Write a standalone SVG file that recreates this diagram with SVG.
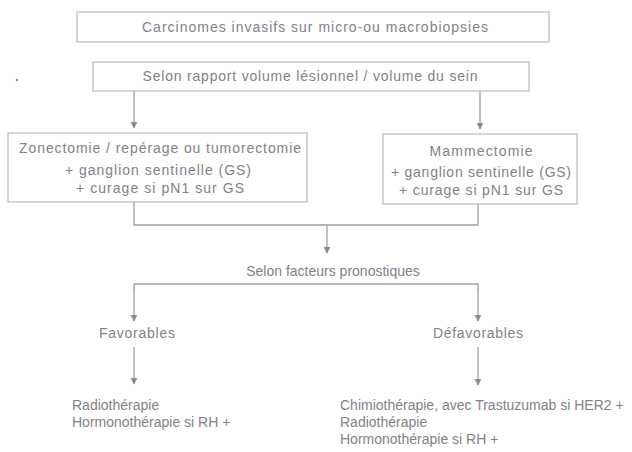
<svg xmlns="http://www.w3.org/2000/svg" width="632" height="452" viewBox="0 0 632 452">
<defs>
<marker id="arr" viewBox="0 0 10 10" refX="9" refY="5" markerWidth="7" markerHeight="7" orient="auto" markerUnits="userSpaceOnUse">
<path d="M0,0 L10,5 L0,10 z" fill="#8e8a92"/>
</marker>
<style>
.box{fill:#ffffff;stroke:#bcbac0;stroke-width:1.2}
.t{font-family:"Liberation Sans",Arial,sans-serif;font-size:14px;fill:#838189}
.c{text-anchor:middle}
.ln{fill:none;stroke:#a09ea4;stroke-width:1.3}
.ar{fill:none;stroke:#a09ea4;stroke-width:1.3;marker-end:url(#arr)}
</style>
</defs>
<rect width="632" height="452" fill="#ffffff"/>
<circle cx="17" cy="80" r="1.2" fill="#8e8a92"/>
<g id="connectors">
<line class="ar" x1="134" y1="91" x2="134" y2="128"/>
<line class="ar" x1="480" y1="91" x2="480" y2="129"/>
<polyline class="ln" points="134,202 134,225 478,225 478,204"/>
<line class="ar" x1="327" y1="225" x2="327" y2="253"/>
<polyline class="ln" points="134,290 134,284 478,284 478,290"/>
<line class="ar" x1="134" y1="289" x2="134" y2="321"/>
<line class="ar" x1="478" y1="289" x2="478" y2="321"/>
<line class="ar" x1="134" y1="347" x2="134" y2="384"/>
<line class="ar" x1="478" y1="347" x2="478" y2="385"/>
</g>
<g id="n1">
<rect class="box" x="77" y="12" width="472" height="30"/>
<text class="t c" x="315" y="32" font-size="15" textLength="346" lengthAdjust="spacing">Carcinomes invasifs sur micro-ou macrobiopsies</text>
</g>
<g id="n2">
<rect class="box" x="93" y="62" width="436" height="29"/>
<text class="t c" x="310" y="81" textLength="335" lengthAdjust="spacing">Selon rapport volume lésionnel / volume du sein</text>
</g>
<g id="n3">
<rect class="box" x="8" y="133" width="299" height="69"/>
<text class="t c" x="160" y="153" textLength="282" lengthAdjust="spacing">Zonectomie / repérage ou tumorectomie</text>
<text class="t c" x="158" y="175" textLength="186" lengthAdjust="spacing">+ ganglion sentinelle (GS)</text>
<text class="t c" x="160" y="193" textLength="168" lengthAdjust="spacing">+ curage si pN1 sur GS</text>
</g>
<g id="n4">
<rect class="box" x="383" y="134" width="194" height="70"/>
<text class="t c" x="481" y="156" textLength="103" lengthAdjust="spacing">Mammectomie</text>
<text class="t c" x="481" y="177" textLength="180" lengthAdjust="spacing">+ ganglion sentinelle (GS)</text>
<text class="t c" x="481" y="195" textLength="164" lengthAdjust="spacing">+ curage si pN1 sur GS</text>
</g>
<g id="n5">
<text class="t c" x="333" y="276" font-size="12">Selon facteurs pronostiques</text>
</g>
<g id="n6">
<text class="t c" x="137" y="338" textLength="76" lengthAdjust="spacing">Favorables</text>
</g>
<g id="n7">
<text class="t c" x="478" y="338" textLength="90" lengthAdjust="spacing">Défavorables</text>
</g>
<g id="n8">
<text class="t" x="72" y="410">Radiothérapie</text>
<text class="t" x="72" y="427">Hormonothérapie si RH +</text>
</g>
<g id="n9">
<text class="t" x="340" y="410">Chimiothérapie, avec Trastuzumab si HER2 +</text>
<text class="t" x="340" y="427">Radiothérapie</text>
<text class="t" x="340" y="444">Hormonothérapie si RH +</text>
</g>
</svg>
